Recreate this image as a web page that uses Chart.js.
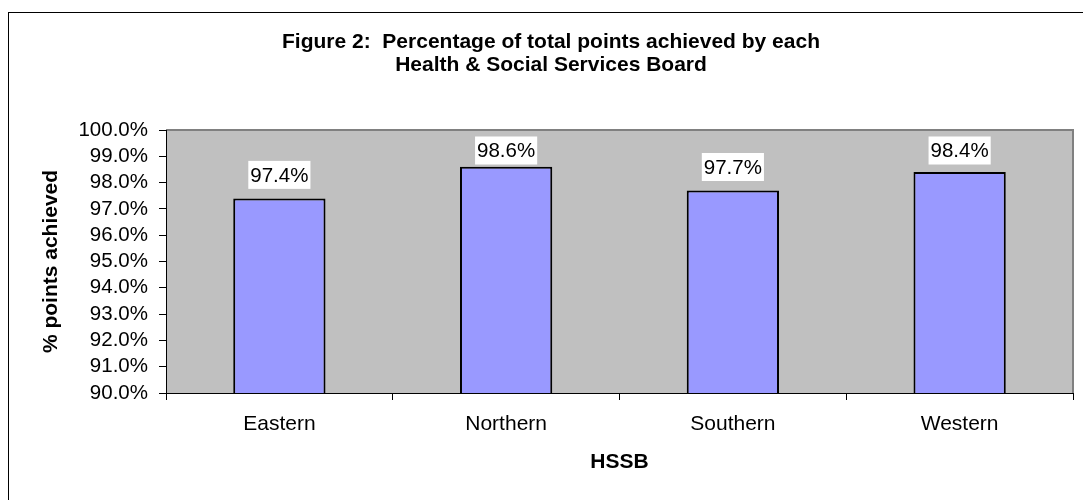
<!DOCTYPE html>
<html>
<head>
<meta charset="utf-8">
<title>HSSB points achieved</title>
<script src="https://cdn.jsdelivr.net/npm/chart.js@4.4.0/dist/chart.umd.min.js"></script>
<style>
    html, body { margin: 0; padding: 0; background: #fff; }
    canvas { display: block; }
</style>
</head>
<body>
<canvas id="hssbChart" width="1083" height="500"></canvas>
<script>
const boards = ['Eastern', 'Northern', 'Southern', 'Western'];
const pointsAchieved = [97.4, 98.6, 97.7, 98.4];
const yMin = 90;
const yMax = 100;
const yStep = 1;

const FONT = "'Liberation Sans', Arial, Helvetica, sans-serif";

// grey plot area plus the frame round the whole chart
const plotBackground = {
    id: 'plotBackground',
    beforeDraw(chart) {
        const { ctx, chartArea: a } = chart;
        ctx.save();
        ctx.fillStyle = '#fff';
        ctx.fillRect(0, 0, chart.width, chart.height);
        ctx.strokeStyle = '#000';
        ctx.lineWidth = 1;
        ctx.strokeRect(8.5, 12.5, chart.width + 10, chart.height + 10);
        ctx.fillStyle = '#c0c0c0';
        ctx.fillRect(a.left, a.top, a.right - a.left, a.bottom - a.top);
        ctx.strokeStyle = '#808080';
        ctx.lineWidth = 2;
        ctx.beginPath();
        ctx.moveTo(a.left, a.top);
        ctx.lineTo(a.right, a.top);
        ctx.lineTo(a.right, a.bottom);
        ctx.stroke();
        ctx.restore();
    }
};

// value labels on white boxes above each bar, kept inside the plot area
const valueLabels = {
    id: 'valueLabels',
    afterDatasetsDraw(chart) {
        const { ctx, chartArea: a } = chart;
        const meta = chart.getDatasetMeta(0);
        ctx.save();
        ctx.font = '20.5px ' + FONT;
        ctx.textAlign = 'center';
        ctx.textBaseline = 'middle';
        meta.data.forEach((bar, i) => {
            const text = pointsAchieved[i].toFixed(1) + '%';
            const w = ctx.measureText(text).width + 4;
            const h = 28;
            let top = bar.y - 9.5 - h;
            if (top < a.top + 6.5) top = a.top + 6.5;
            ctx.fillStyle = '#fff';
            ctx.fillRect(bar.x - w / 2, top, w, h);
            ctx.fillStyle = '#000';
            ctx.fillText(text, bar.x, top + h / 2 + 1);
        });
        ctx.restore();
    }
};

new Chart(document.getElementById('hssbChart'), {
    type: 'bar',
    data: {
        labels: boards,
        datasets: [{
            data: pointsAchieved,
            backgroundColor: '#9999ff',
            borderColor: '#000',
            borderWidth: 2,
            borderSkipped: false,
            barPercentage: 0.407,
            categoryPercentage: 1
        }]
    },
    options: {
        responsive: false,
        animation: false,
        layout: { padding: { left: 29, right: 10, top: 0, bottom: 0 } },
        plugins: {
            legend: { display: false },
            tooltip: { enabled: false },
            title: {
                display: true,
                text: ['Figure 2:  Percentage of total points achieved by each', 'Health & Social Services Board'],
                color: '#000',
                font: { family: FONT, size: 21, weight: 'bold', lineHeight: 1.1 },
                padding: { top: 30.5, bottom: 53.3 }
            }
        },
        scales: {
            x: {
                afterFit: scale => { scale.height = 107; },
                grid: { drawOnChartArea: false, tickLength: 7, color: '#000' },
                border: { color: '#000', width: 1 },
                ticks: { color: '#000', padding: 12, font: { family: FONT, size: 21 } },
                title: {
                    display: true,
                    text: 'HSSB',
                    color: '#000',
                    font: { family: FONT, size: 21, weight: 'bold' },
                    padding: { top: 0, bottom: 25.5 }
                }
            },
            y: {
                min: yMin,
                max: yMax,
                afterFit: scale => { scale.width = 137; },
                grid: { drawOnChartArea: false, tickLength: 7, color: '#000' },
                border: { color: '#000', width: 1 },
                ticks: {
                    stepSize: yStep,
                    autoSkip: false,
                    color: '#000',
                    padding: 11,
                    font: { family: FONT, size: 20.5 },
                    callback: value => value.toFixed(1) + '%'
                },
                title: {
                    display: true,
                    text: '% points achieved',
                    color: '#000',
                    font: { family: FONT, size: 21, weight: 'bold' },
                    padding: { top: 9.4, bottom: 0 }
                }
            }
        }
    },
    plugins: [plotBackground, valueLabels]
});
</script>
</body>
</html>
